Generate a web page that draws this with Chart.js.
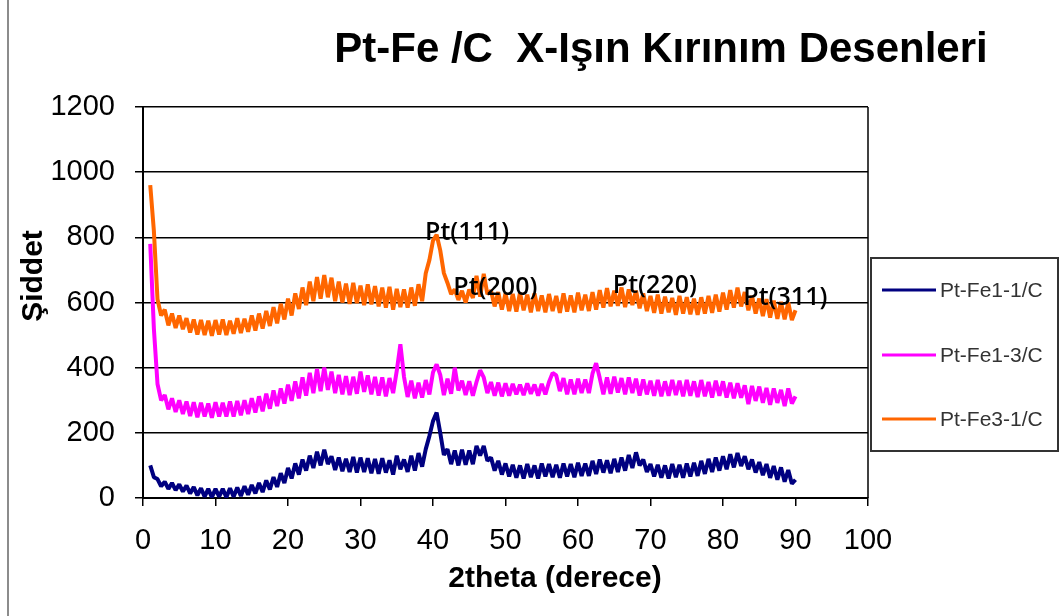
<!DOCTYPE html>
<html>
<head>
<meta charset="utf-8">
<title>Pt-Fe /C X-Işın Kırınım Desenleri</title>
<script src="https://cdn.jsdelivr.net/npm/chart.js@4.4.1/dist/chart.umd.min.js"></script>
<style>
    html, body { margin: 0; padding: 0; background: #fff; }
    #xrd-chart { display: block; }
</style>
</head>
<body>
<canvas id="xrd-chart" width="1059" height="616"></canvas>
<script>
/*
    sample data (2theta step 0.5)
*/
const angles = [
    1, 1.5, 2, 2.5, 3, 3.5, 4, 4.5, 5, 5.5,
    6, 6.5, 7, 7.5, 8, 8.5, 9, 9.5, 10, 10.5,
    11, 11.5, 12, 12.5, 13, 13.5, 14, 14.5, 15, 15.5,
    16, 16.5, 17, 17.5, 18, 18.5, 19, 19.5, 20, 20.5,
    21, 21.5, 22, 22.5, 23, 23.5, 24, 24.5, 25, 25.5,
    26, 26.5, 27, 27.5, 28, 28.5, 29, 29.5, 30, 30.5,
    31, 31.5, 32, 32.5, 33, 33.5, 34, 34.5, 35, 35.5,
    36, 36.5, 37, 37.5, 38, 38.5, 39, 39.5, 40, 40.5,
    41, 41.5, 42, 42.5, 43, 43.5, 44, 44.5, 45, 45.5,
    46, 46.5, 47, 47.5, 48, 48.5, 49, 49.5, 50, 50.5,
    51, 51.5, 52, 52.5, 53, 53.5, 54, 54.5, 55, 55.5,
    56, 56.5, 57, 57.5, 58, 58.5, 59, 59.5, 60, 60.5,
    61, 61.5, 62, 62.5, 63, 63.5, 64, 64.5, 65, 65.5,
    66, 66.5, 67, 67.5, 68, 68.5, 69, 69.5, 70, 70.5,
    71, 71.5, 72, 72.5, 73, 73.5, 74, 74.5, 75, 75.5,
    76, 76.5, 77, 77.5, 78, 78.5, 79, 79.5, 80, 80.5,
    81, 81.5, 82, 82.5, 83, 83.5, 84, 84.5, 85, 85.5,
    86, 86.5, 87, 87.5, 88, 88.5, 89, 89.5, 90
];

const ptFe11 = [
    100, 64, 58, 36, 50, 28, 46, 24, 42, 20,
    38, 14, 34, 8, 30, 4, 28, 2, 28, 4,
    28, 2, 30, 4, 32, 6, 36, 10, 40, 14,
    46, 18, 54, 26, 64, 34, 76, 46, 92, 60,
    106, 72, 118, 84, 130, 92, 142, 100, 148, 104,
    128, 86, 124, 82, 120, 80, 126, 78, 124, 80,
    122, 76, 120, 74, 122, 78, 116, 72, 130, 88,
    118, 80, 130, 84, 138, 96, 150, 190, 236, 262,
    200, 132, 150, 104, 146, 100, 148, 102, 146, 104,
    160, 130, 160, 114, 124, 84, 114, 72, 106, 66,
    102, 62, 100, 60, 104, 64, 100, 60, 106, 66,
    104, 64, 102, 62, 106, 66, 104, 64, 108, 68,
    106, 68, 114, 74, 118, 78, 116, 76, 120, 80,
    124, 84, 132, 92, 140, 100, 118, 80, 104, 66,
    102, 62, 100, 60, 104, 64, 102, 62, 106, 66,
    108, 68, 114, 74, 120, 80, 124, 84, 128, 88,
    134, 94, 138, 98, 128, 88, 118, 78, 110, 70,
    104, 62, 98, 56, 94, 50, 86, 44, 56
];

const ptFe13 = [
    780, 520, 350, 300, 316, 272, 306, 264, 300, 258,
    296, 252, 294, 248, 292, 250, 290, 246, 294, 250,
    292, 250, 296, 250, 298, 254, 300, 258, 306, 262,
    312, 266, 320, 274, 330, 282, 336, 290, 348, 298,
    358, 306, 370, 314, 384, 322, 396, 328, 400, 332,
    388, 322, 378, 318, 374, 316, 372, 320, 388, 326,
    376, 318, 372, 314, 370, 312, 368, 322, 390, 472,
    372, 310, 360, 306, 354, 308, 362, 318, 386, 410,
    378, 316, 366, 320, 400, 330, 360, 316, 358, 314,
    356, 392, 370, 322, 356, 314, 354, 312, 352, 314,
    350, 318, 348, 316, 352, 320, 348, 314, 350, 318,
    356, 384, 376, 328, 368, 318, 364, 318, 366, 322,
    364, 322, 382, 414, 368, 318, 370, 320, 372, 324,
    368, 318, 370, 322, 366, 314, 364, 318, 360, 314,
    362, 312, 358, 314, 362, 316, 360, 312, 362, 314,
    358, 310, 362, 312, 356, 308, 360, 314, 358, 308,
    354, 306, 352, 308, 346, 288, 344, 298, 342, 292,
    338, 286, 336, 292, 332, 282, 336, 290, 312
];

const ptFe31 = [
    960, 820, 610, 560, 578, 530, 566, 522, 560, 518,
    552, 508, 548, 502, 546, 500, 544, 498, 546, 502,
    548, 500, 544, 504, 552, 506, 550, 510, 560, 514,
    566, 520, 574, 528, 586, 536, 596, 548, 612, 560,
    628, 580, 646, 592, 664, 604, 678, 612, 684, 616,
    676, 604, 664, 600, 658, 596, 660, 598, 652, 592,
    656, 594, 650, 588, 646, 584, 648, 578, 642, 586,
    640, 584, 646, 590, 656, 604, 690, 730, 790, 808,
    760, 690, 660, 626, 640, 608, 636, 600, 640, 614,
    682, 618, 688, 626, 636, 588, 632, 578, 628, 574,
    626, 572, 630, 576, 624, 570, 628, 574, 622, 570,
    626, 574, 620, 568, 628, 572, 622, 570, 630, 576,
    624, 574, 632, 578, 638, 584, 644, 588, 636, 590,
    646, 586, 640, 592, 636, 582, 628, 574, 620, 568,
    624, 566, 618, 570, 614, 562, 620, 566, 616, 564,
    612, 562, 616, 566, 620, 568, 624, 572, 630, 578,
    638, 584, 646, 588, 632, 576, 620, 566, 612, 558,
    610, 554, 606, 550, 602, 548, 600, 546, 576
];

const seriesNames = ["Pt-Fe1-1/C", "Pt-Fe1-3/C", "Pt-Fe3-1/C"];
const seriesColors = ["#000080", "#FF00FF", "#FF6600"];

/* peak labels, placed in data units */
const peakNames = ["Pt(111)", "Pt(200)", "Pt(220)", "Pt(311)"];
const peakX = [44.7, 48.6, 70.6, 88.6];
const peakY = [813, 645, 651, 614];

const FONT = "'Liberation Sans', Arial, sans-serif";

function toPoints(values) {
    return values.map((v, i) => ({ x: angles[i], y: v }));
}

/*
    title, axis titles, peak labels, legend box, frame
*/
const decorPlugin = {
    id: "decor",
    afterDraw(chart) {
        const ctx = chart.ctx;
        const area = chart.chartArea;
        const xs = chart.scales.x;
        const ys = chart.scales.y;

        ctx.save();

        // left frame line
        ctx.strokeStyle = "#8c8c8c";
        ctx.lineWidth = 2;
        ctx.beginPath();
        ctx.moveTo(8, 0);
        ctx.lineTo(8, 616);
        ctx.stroke();

        // right border of the plot
        ctx.strokeStyle = "#000";
        ctx.lineWidth = 1.5;
        ctx.beginPath();
        ctx.moveTo(area.right, area.top);
        ctx.lineTo(area.right, area.bottom);
        ctx.stroke();

        // title
        ctx.fillStyle = "#000";
        ctx.font = "bold 42px " + FONT;
        ctx.textAlign = "center";
        ctx.textBaseline = "alphabetic";
        ctx.fillText("Pt-Fe /C  X-Işın Kırınım Desenleri", 661, 62);

        // x title
        ctx.font = "bold 30px " + FONT;
        ctx.fillText("2theta (derece)", 555, 587);

        // y title
        ctx.save();
        ctx.translate(42, 276);
        ctx.rotate(-Math.PI / 2);
        ctx.fillText("Şiddet", 0, 0);
        ctx.restore();

        // peak labels
        ctx.font = "600 25px 'Open Sans', " + FONT;
        ctx.textBaseline = "middle";
        peakNames.forEach((name, i) => {
            ctx.fillText(name, xs.getPixelForValue(peakX[i]), ys.getPixelForValue(peakY[i]));
        });

        // legend
        ctx.fillStyle = "#fff";
        ctx.fillRect(871, 258, 187, 193);
        ctx.strokeStyle = "#333";
        ctx.lineWidth = 2;
        ctx.strokeRect(871, 258, 187, 193);

        const rowY = [290, 355, 419];
        ctx.font = "21px " + FONT;
        ctx.textAlign = "left";
        ctx.textBaseline = "middle";
        seriesNames.forEach((name, i) => {
            ctx.strokeStyle = seriesColors[i];
            ctx.lineWidth = 3;
            ctx.beginPath();
            ctx.moveTo(882, rowY[i]);
            ctx.lineTo(936, rowY[i]);
            ctx.stroke();
            ctx.fillStyle = "#333";
            ctx.fillText(name, 940, rowY[i] + 1);
        });

        ctx.restore();
    }
};

const datasets = [ptFe11, ptFe13, ptFe31].map((values, i) => ({
    label: seriesNames[i],
    data: toPoints(values),
    borderColor: seriesColors[i],
    backgroundColor: seriesColors[i],
    borderWidth: 4,
    borderJoinStyle: "bevel",
    pointRadius: 0,
    showLine: true,
    tension: 0,
    order: 3 - i
}));

const canvas = document.getElementById("xrd-chart");
const xrdChart = new Chart(canvas.getContext("2d"), {
    type: "scatter",
    data: { datasets: datasets },
    options: {
        responsive: false,
        animation: false,
        layout: {
            padding: { left: 0, top: 107, right: 191, bottom: 0 }
        },
        plugins: {
            legend: { display: false },
            tooltip: { enabled: false }
        },
        scales: {
            x: {
                type: "linear",
                min: 0,
                max: 100,
                afterFit: (scale) => { scale.height = 118; },
                ticks: {
                    stepSize: 10,
                    color: "#000",
                    padding: 18,
                    maxRotation: 0,
                    font: { family: FONT, size: 29 },
                    callback: (value) => String(value)
                },
                grid: {
                    drawOnChartArea: false,
                    drawTicks: true,
                    tickLength: 8,
                    color: "#000",
                    lineWidth: 1.5
                },
                border: { display: true, color: "#000", width: 2 }
            },
            y: {
                min: 0,
                max: 1200,
                afterFit: (scale) => { scale.width = 143; },
                ticks: {
                    stepSize: 200,
                    color: "#000",
                    padding: 20,
                    font: { family: FONT, size: 29 },
                    callback: (value) => String(value)
                },
                grid: {
                    drawOnChartArea: true,
                    drawTicks: true,
                    tickLength: 8,
                    color: "#000",
                    lineWidth: 1.5
                },
                border: { display: true, color: "#000", width: 2 }
            }
        }
    },
    plugins: [decorPlugin]
});
</script>
</body>
</html>
